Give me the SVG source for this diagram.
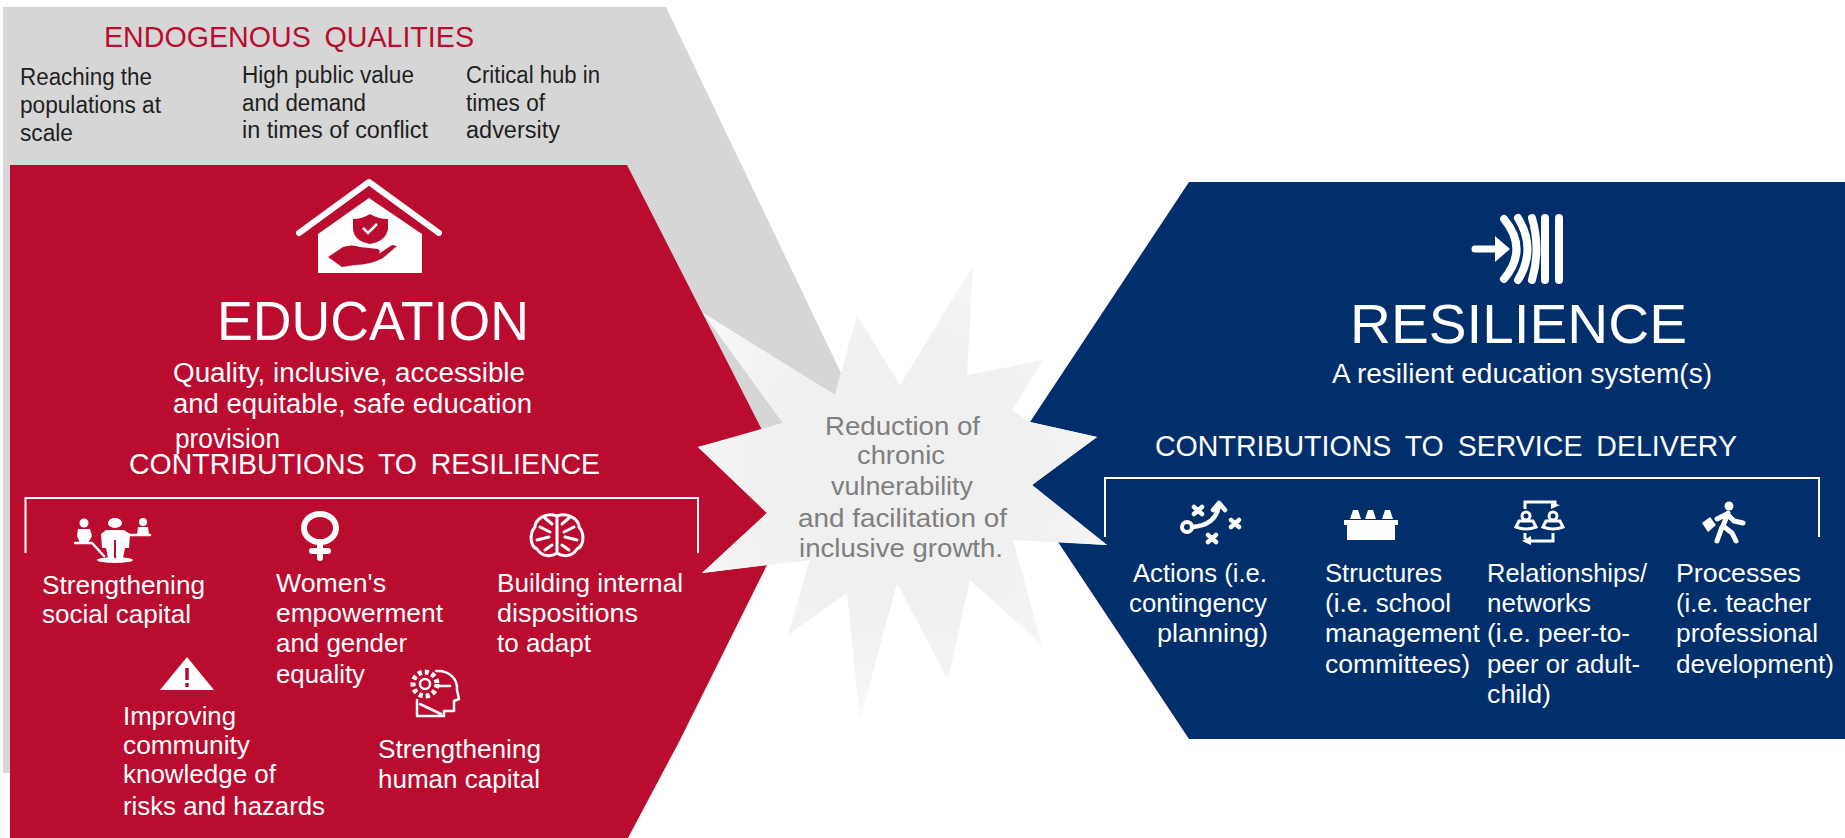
<svg xmlns="http://www.w3.org/2000/svg" width="1845" height="838" viewBox="0 0 1845 838">
<style>
text{font-family:"Liberation Sans",Arial,sans-serif;fill:#fff;font-size:26px}
.k{fill:#1f1f1f;font-size:23px}
.h{fill:#ba0c2f;font-size:30px;word-spacing:6px}
.t{font-size:56px}
.s{font-size:27px}
.c{font-size:29px;word-spacing:6px}
.g{fill:#7f7f7f;font-size:25px}
.w{fill:#fff}
.r{fill:#ba0c2f}
.b{fill:#002f6c}
.ln{fill:none;stroke:#fff;stroke-linecap:round;stroke-linejoin:round}
.br{fill:none;stroke:#fff;stroke-width:2}
</style>
<defs>
<radialGradient id="burst" gradientUnits="userSpaceOnUse" cx="900" cy="480" r="240">
<stop offset="0.55" stop-color="#f0f0f0"/>
<stop offset="1" stop-color="#f7f7f7"/>
</radialGradient>
</defs>
<rect width="1845" height="838" fill="#fff"/>
<g id="qualities">
<polygon points="3,7 666,7 841,373 835,395 703,313 783,423 698,447 10,773 3,773" fill="#d6d6d6"/>
<text class="h" x="104" y="47" textLength="370" lengthAdjust="spacingAndGlyphs">ENDOGENOUS QUALITIES</text>
<text class="k" x="20" y="85" textLength="132" lengthAdjust="spacingAndGlyphs">Reaching the</text>
<text class="k" x="20" y="113" textLength="141" lengthAdjust="spacingAndGlyphs">populations at</text>
<text class="k" x="20" y="141" textLength="53" lengthAdjust="spacingAndGlyphs">scale</text>
<text class="k" x="242" y="83" textLength="172" lengthAdjust="spacingAndGlyphs">High public value</text>
<text class="k" x="242" y="111" textLength="124" lengthAdjust="spacingAndGlyphs">and demand</text>
<text class="k" x="242" y="138" textLength="186" lengthAdjust="spacingAndGlyphs">in times of conflict</text>
<text class="k" x="466" y="83" textLength="134" lengthAdjust="spacingAndGlyphs">Critical hub in</text>
<text class="k" x="466" y="111" textLength="79" lengthAdjust="spacingAndGlyphs">times of</text>
<text class="k" x="466" y="138" textLength="94" lengthAdjust="spacingAndGlyphs">adversity</text>
</g>
<g id="education">
<polygon class="r" points="10,165 627,165 762,430 698,447 767,513 702,573 767,565 680,740 628,838 10,838"/>
<g id="education-icon">
<polyline class="ln" points="299,233 369,182 439,233" stroke-width="6"/>
<polygon class="w" points="318,234 369,198 422,234 422,273 318,273"/>
<path class="r" d="M353,219 Q362,219 370,214 Q378,219 388,219 L388,229 Q386,241 370,244 Q354,241 353,229Z"/>
<path d="M363,228 L368,233 L377,224" fill="none" stroke="#fff" stroke-width="2.5"/>
<path class="r" d="M328,257 L343,247 Q352,244 360,247 L378,249 Q382,252 377,255 L392,245 L397,246 L383,258 Q370,265 355,265 L342,267Z"/>
</g>
<text class="t" x="217" y="340" textLength="312" lengthAdjust="spacingAndGlyphs">EDUCATION</text>
<text class="s" x="173" y="382" textLength="352" lengthAdjust="spacingAndGlyphs">Quality, inclusive, accessible</text>
<text class="s" x="173" y="413" textLength="359" lengthAdjust="spacingAndGlyphs">and equitable, safe education</text>
<text class="s" x="175" y="448" textLength="105" lengthAdjust="spacingAndGlyphs">provision</text>
<text class="c" x="129" y="474" textLength="471" lengthAdjust="spacingAndGlyphs">CONTRIBUTIONS TO RESILIENCE</text>
<polyline class="br" points="25.5,553 25.5,498 698,498 698,553"/>
</g>
<g id="social-capital">
<g class="w">
<ellipse cx="115" cy="523" rx="7" ry="5"/><circle cx="84" cy="523" r="4.5"/><circle cx="143" cy="522" r="4"/>
<path d="M106,530 H124 L130,534 L129,548 H125 L123,558 H108 L106,548 H102 L101,534Z"/>
<path d="M78,529 H90 L92,536 L88,543 H80 L77,536Z"/><path d="M138,527 H148 L149,535 H137Z"/>
<ellipse cx="115" cy="560" rx="18" ry="3"/>
</g>
<path d="M115,540 V558" stroke="#ba0c2f" stroke-width="2" fill="none"/>
<path class="ln" d="M75,543 H92 L104,556 M128,535 H150" stroke-width="2.5"/>
<text x="42" y="594" textLength="163" lengthAdjust="spacingAndGlyphs">Strengthening</text>
<text x="42" y="623" textLength="149" lengthAdjust="spacingAndGlyphs">social capital</text>
</g>
<g id="womens-empowerment">
<ellipse cx="320" cy="528" rx="16" ry="14" fill="none" stroke="#fff" stroke-width="6"/>
<path class="ln" d="M320,542 V558 M312,551 H328" stroke-width="6" stroke-linecap="butt"/>
<text x="276" y="592" textLength="110" lengthAdjust="spacingAndGlyphs">Women's</text>
<text x="276" y="622" textLength="167" lengthAdjust="spacingAndGlyphs">empowerment</text>
<text x="276" y="652" textLength="131" lengthAdjust="spacingAndGlyphs">and gender</text>
<text x="276" y="683" textLength="89" lengthAdjust="spacingAndGlyphs">equality</text>
</g>
<g id="internal-dispositions">
<path class="ln" stroke-width="3" d="M557,516 C545,512 535,520 535,527 C529,534 530,546 537,549 C542,557 552,557 557,553 C562,557 572,557 577,549 C584,546 585,534 579,527 C579,520 569,512 557,516 V553 M540,527 L550,532 M537,540 L549,537 M552,545 L545,550 M574,527 L564,532 M577,540 L565,537 M562,545 L569,550 M545,518 L552,524 M569,518 L562,524"/>
<text x="497" y="592" textLength="186" lengthAdjust="spacingAndGlyphs">Building internal</text>
<text x="497" y="622" textLength="141" lengthAdjust="spacingAndGlyphs">dispositions</text>
<text x="497" y="652" textLength="94" lengthAdjust="spacingAndGlyphs">to adapt</text>
</g>
<g id="community-knowledge">
<polygon class="w" points="187,657 160,690 214,690"/>
<path d="M187,668 V680 M187,683 V687" stroke="#ba0c2f" stroke-width="3.5" fill="none"/>
<text x="123" y="725" textLength="113" lengthAdjust="spacingAndGlyphs">Improving</text>
<text x="123" y="754" textLength="127" lengthAdjust="spacingAndGlyphs">community</text>
<text x="123" y="783" textLength="153" lengthAdjust="spacingAndGlyphs">knowledge of</text>
<text x="123" y="815" textLength="202" lengthAdjust="spacingAndGlyphs">risks and hazards</text>
</g>
<g id="human-capital">
<circle cx="425" cy="684" r="5" fill="none" stroke="#fff" stroke-width="2.5"/>
<circle cx="425" cy="684" r="12" fill="none" stroke="#fff" stroke-width="5" stroke-dasharray="4 3"/>
<path class="ln" stroke-width="2.5" d="M436,671 C450,670 458,680 457,690 L459,699 L454,701 V711 H444 V716 H417 V700 M420,704 L441,714 M438,686 H450"/>
<text x="378" y="758" textLength="163" lengthAdjust="spacingAndGlyphs">Strengthening</text>
<text x="378" y="788" textLength="162" lengthAdjust="spacingAndGlyphs">human capital</text>
</g>
<g id="resilience">
<polygon class="b" points="1189,182 1845,182 1845,739 1189,739 1058,542 1107,545 1032,485 1097,437 1030,422"/>
<g id="resilience-icon">
<path class="ln" stroke-width="7" d="M1475,249 H1500"/>
<polygon class="w" points="1495,236 1510,249 1495,262"/>
<path class="ln" stroke-width="8" d="M1504,219 Q1529,249 1504,279 M1518,218 Q1537,249 1518,280"/>
<path class="ln" stroke-width="8" d="M1532,218 Q1541,249 1532,280 M1545,218 V280 M1559,218 V280"/>
</g>
<text class="t" x="1350" y="343" textLength="337" lengthAdjust="spacingAndGlyphs">RESILIENCE</text>
<text class="s" x="1332" y="383" textLength="380" lengthAdjust="spacingAndGlyphs">A resilient education system(s)</text>
<text class="c" x="1155" y="456" textLength="582" lengthAdjust="spacingAndGlyphs">CONTRIBUTIONS TO SERVICE DELIVERY</text>
<polyline class="br" points="1105,537 1105,478 1819,478 1819,537"/>
</g>
<g id="actions">
<circle cx="1187" cy="527" r="5" fill="none" stroke="#fff" stroke-width="4"/>
<path class="ln" stroke-width="4.5" d="M1192,527 C1208,526 1217,518 1219,505 M1213,510 L1219,503 L1225,510 M1194,507 L1202,514 M1202,507 L1194,514 M1231,520 L1239,527 M1239,520 L1231,527 M1208,535 L1216,542 M1216,535 L1208,542"/>
<text x="1133" y="582" textLength="134" lengthAdjust="spacingAndGlyphs">Actions (i.e.</text>
<text x="1129" y="612" textLength="138" lengthAdjust="spacingAndGlyphs">contingency</text>
<text x="1157" y="642" textLength="111" lengthAdjust="spacingAndGlyphs">planning)</text>
</g>
<g id="structures">
<g class="w">
<rect x="1347" y="524" width="48" height="16"/><rect x="1344" y="520" width="54" height="5"/>
<path d="M1350,519 L1353,510 H1358 L1361,519Z M1365,519 L1368,510 H1373 L1376,519Z M1382,519 L1385,510 H1390 L1393,519Z"/>
</g>
<text x="1325" y="582" textLength="117" lengthAdjust="spacingAndGlyphs">Structures</text>
<text x="1325" y="612" textLength="126" lengthAdjust="spacingAndGlyphs">(i.e. school</text>
<text x="1325" y="642" textLength="155" lengthAdjust="spacingAndGlyphs">management</text>
<text x="1325" y="673" textLength="145" lengthAdjust="spacingAndGlyphs">committees)</text>
</g>
<g id="relationships">
<g fill="none" stroke="#fff" stroke-width="3">
<circle cx="1526" cy="516" r="4"/><circle cx="1553" cy="516" r="4"/>
<path d="M1516,527 L1519,521 H1533 L1536,527 Q1526,531 1516,527Z M1543,527 L1546,521 H1560 L1563,527 Q1553,531 1543,527Z"/>
<path d="M1525,509 V502 H1555 V505 M1530,541 H1553 V533 M1525,533 V539"/>
</g>
<polygon class="w" points="1551,503 1560,505 1551,509"/>
<polygon class="w" points="1522,541 1531,536 1531,545"/>
<text x="1487" y="582" textLength="160" lengthAdjust="spacingAndGlyphs">Relationships/</text>
<text x="1487" y="612" textLength="104" lengthAdjust="spacingAndGlyphs">networks</text>
<text x="1487" y="642" textLength="143" lengthAdjust="spacingAndGlyphs">(i.e. peer-to-</text>
<text x="1487" y="673" textLength="153" lengthAdjust="spacingAndGlyphs">peer or adult-</text>
<text x="1487" y="703" textLength="64" lengthAdjust="spacingAndGlyphs">child)</text>
</g>
<g id="processes">
<circle class="w" cx="1729" cy="506" r="4.5"/>
<path class="ln" stroke-width="5" d="M1728,513 L1723,526 L1732,533 L1736,541 M1722,527 L1717,541 M1717,519 L1727,514 L1734,521 L1743,523"/>
<polygon class="w" points="1702,523 1710,517 1716,525 1708,532"/>
<text x="1676" y="582" textLength="125" lengthAdjust="spacingAndGlyphs">Processes</text>
<text x="1676" y="612" textLength="135" lengthAdjust="spacingAndGlyphs">(i.e. teacher</text>
<text x="1676" y="642" textLength="142" lengthAdjust="spacingAndGlyphs">professional</text>
<text x="1676" y="673" textLength="158" lengthAdjust="spacingAndGlyphs">development)</text>
</g>
<g id="outcome">
<polygon fill="url(#burst)" points="698,447 783,423 703,313 835,395 857,315 900,385 973,265 967,375 1043,360 1012,410 1030,422 1097,437 1032,485 1107,545 1013,540 1042,645 970,580 948,680 897,583 860,720 847,593 788,635 810,560 702,573 767,513"/>
<text class="g" x="825" y="435" textLength="155" lengthAdjust="spacingAndGlyphs">Reduction of</text>
<text class="g" x="857" y="464" textLength="88" lengthAdjust="spacingAndGlyphs">chronic</text>
<text class="g" x="831" y="495" textLength="142" lengthAdjust="spacingAndGlyphs">vulnerability</text>
<text class="g" x="798" y="527" textLength="209" lengthAdjust="spacingAndGlyphs">and facilitation of</text>
<text class="g" x="799" y="557" textLength="204" lengthAdjust="spacingAndGlyphs">inclusive growth.</text>
</g>
<g id="connectors"/>
</svg>
